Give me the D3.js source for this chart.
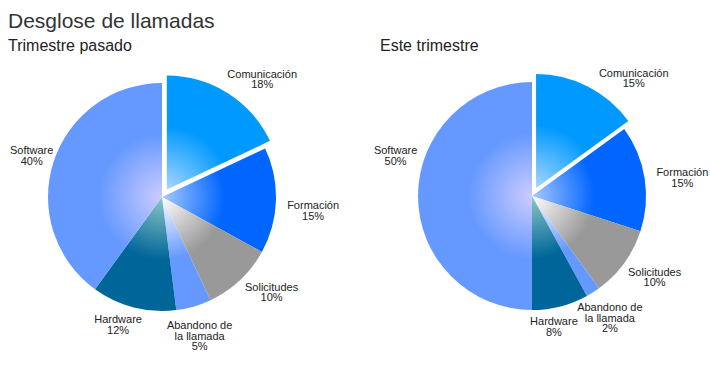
<!DOCTYPE html>
<html>
<head>
<meta charset="utf-8">
<script src="https://cdn.jsdelivr.net/npm/d3@7"></script>
<style>
  body { margin: 0; background: #fff; }
  svg text { font-family: Arial, "Liberation Sans", sans-serif; }
</style>
</head>
<body>
<div id="svgContainer"></div>
<script>
// Chart data
const categories = ["Comunicación", "Formación", "Solicitudes", "Abandono de la llamada", "Hardware", "Software"];
const lastQuarter = [18, 15, 10, 5, 12, 40];
const thisQuarter = [15, 15, 10, 2, 8, 50];
const panelTitles = ["Trimestre pasado", "Este trimestre"];

// Slice colours: full colour and the light colour at the pie centre
const baseColors = ["#0099ff", "#0066ff", "#999999", "#6699ff", "#006699", "#6699ff"];
const innerColors = ["#a6d6ff", "#a8c8ff", "#ffffff", "#ffffff", "#8cc6c6", "#ccccff"];

const width = 710;
const height = 365;
const radius = 114;
const explode = 9;

// Label lines, broken like the original
const labelLines = {
  "Abandono de la llamada": ["Abandono de", "la llamada"]
};

// Small hand nudges where the original layout moved a label off the bisector
const labelNudge = [
  { "Comunicación": [12, 2], "Formación": [4, 10], "Solicitudes": [5, -1],
    "Abandono de la llamada": [-5, 7], "Hardware": [-8, 0], "Software": [7, 0] },
  { "Comunicación": [27, 9], "Formación": [5, 3], "Solicitudes": [-1, 4],
    "Abandono de la llamada": [-4, 6], "Hardware": [-14, 3], "Software": [8, -40] }
];

const svg = d3.select("#svgContainer").append("svg")
  .attr("width", width)
  .attr("height", height);

svg.append("text")
  .attr("x", 8)
  .attr("y", 28)
  .attr("font-size", "21px")
  .attr("fill", "#333")
  .text("Desglose de llamadas");

const defs = svg.append("defs");

const pie = d3.pie().sort(null).value(d => d.value);
const arc = d3.arc().innerRadius(0).outerRadius(radius);

const panels = [
  { values: lastQuarter, cx: 162, cy: 197, titleX: 8 },
  { values: thisQuarter, cx: 532, cy: 196, titleX: 380 }
];

panels.forEach((p, pi) => {
  svg.append("text")
    .attr("x", p.titleX)
    .attr("y", 51)
    .attr("font-size", "16px")
    .attr("fill", "#222")
    .text(panelTitles[pi]);

  const data = categories.map((c, i) => ({ name: c, value: p.values[i], idx: i }));
  const arcs = pie(data);

  const g = svg.append("g").attr("transform", `translate(${p.cx},${p.cy})`);

  arcs.forEach(a => {
    const mid = (a.startAngle + a.endAngle) / 2;
    const dx = Math.sin(mid), dy = -Math.cos(mid);
    const off = a.data.idx === 0 ? explode : 0;

    const gradId = `grad-${pi}-${a.data.idx}`;
    const grad = defs.append("radialGradient")
      .attr("id", gradId)
      .attr("gradientUnits", "userSpaceOnUse")
      .attr("cx", 0).attr("cy", 0).attr("r", radius);
    grad.append("stop").attr("offset", 0).attr("stop-color", innerColors[a.data.idx]);
    grad.append("stop").attr("offset", 0.55).attr("stop-color", baseColors[a.data.idx]);
    grad.append("stop").attr("offset", 1).attr("stop-color", baseColors[a.data.idx]);

    g.append("g")
      .attr("transform", `translate(${dx * off},${dy * off})`)
      .append("path")
      .attr("d", arc(a))
      .attr("fill", `url(#${gradId})`);

    // Label text block placed just outside the slice edge
    const lines = (labelLines[a.data.name] || [a.data.name]).concat([a.data.value + "%"]);
    const lineH = 10.5;
    const boxW = d3.max(lines, l => l.length) * 5.6;
    const boxH = lines.length * lineH;
    const rr = radius + 8 + off;
    let lx = dx * rr + dx * boxW / 2;
    let ly = dy * rr + dy * boxH / 2;
    const nudge = labelNudge[pi][a.data.name];
    if (nudge) {
      lx += nudge[0];
      ly += nudge[1];
    }
    const t = g.append("text")
      .attr("text-anchor", "middle")
      .attr("font-size", "11px")
      .attr("fill", "#222");
    lines.forEach((l, k) => {
      t.append("tspan")
        .attr("x", lx)
        .attr("y", ly - boxH / 2 + lineH * (k + 1) - 2)
        .text(l);
    });
  });
});
</script>
</body>
</html>
